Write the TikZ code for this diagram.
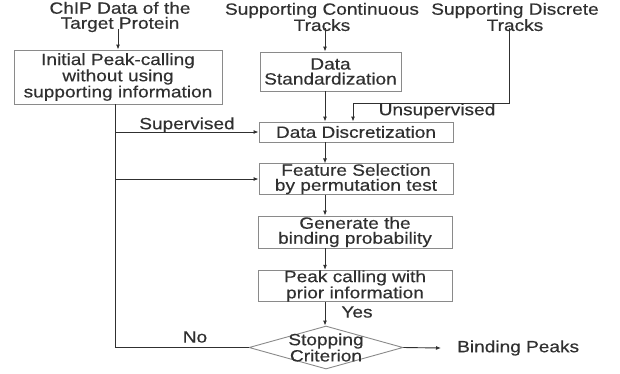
\documentclass[tikz,border=0pt]{standalone}
\usepackage{fontspec}
\setmainfont{Liberation Sans}[FakeStretch=1.17,FakeBold=0.4]
\usetikzlibrary{shapes.geometric,arrows.meta}
\definecolor{ink}{HTML}{303030}
\definecolor{edge}{HTML}{8A8A8A}
\begin{document}
\begin{tikzpicture}[x=1pt,y=-1pt,
  every node/.style={font=\fontsize{16.3}{15}\selectfont, text=ink, align=center, inner sep=0pt},
  box/.style={draw=edge, line width=0.9pt},
  arr/.style={draw=ink, line width=0.9pt, -{Latex[length=5pt,width=4pt]}},
  ln/.style={draw=ink, line width=0.9pt},
  lbl/.style={font=\fontsize{16.3}{15}\selectfont}]
\useasboundingbox (0,0) rectangle (620,373);

% sources
\node (chip) at (120,17) {ChIP Data of the\\Target Protein};
\node (cont) at (322,17) {Supporting Continuous\\Tracks};
\node (dtr) at (515,17) {Supporting Discrete\\Tracks};

% process boxes
\node[box, minimum width=208, minimum height=54] (init) at (118,77)
  {Initial Peak-calling\\without using\\supporting information};
\node[box, minimum width=141, minimum height=39] (std) at (330.5,71.5)
  {Data\\Standardization};
\node[box, minimum width=194, minimum height=20] (disc) at (356,132)
  {Data Discretization};
\node[box, minimum width=194, minimum height=28] (feat) at (356,179)
  {Feature Selection\\by permutation test};
\node[box, minimum width=194, minimum height=32] (gen) at (355,232)
  {Generate the\\binding probability};
\node[box, minimum width=194, minimum height=30] (peak) at (355,286)
  {Peak calling with\\prior information};
% decision: the text sits on top so it may overrun the outline
\node[box, diamond, aspect=3.58, minimum width=154, minimum height=43,
  label={[align=center]center:Stopping\\Criterion}] (stop) at (326,347.5) {};
\node[anchor=west] (out) at (457,348) {Binding Peaks};

% guide lines
\coordinate (spine) at (325,0);
\coordinate (lft) at (115,0);
\coordinate (drop) at (353,0);
\coordinate (dline) at (509,0);
\coordinate (turn) at (0,103);

% connectors
\draw[arr] ([yshift=3]chip.south -| init.north) -- (init.north);
\draw[arr] ([yshift=3]cont.south -| spine) -- (std.north -| spine);
\draw[arr] (std.south -| spine) -- (disc.north -| spine);
\draw[arr] (disc.south -| spine) -- (feat.north -| spine);
\draw[arr] (feat.south -| spine) -- (gen.north -| spine);
\draw[arr] (gen.south -| spine) -- (peak.north -| spine);
\draw[arr] (peak.south -| spine) -- (stop.north -| spine);
\draw[ln] ([yshift=3]dtr.south -| dline) -- (dline |- turn) -- (drop |- turn);
\draw[arr] (drop |- turn) -- (disc.north -| drop);
\draw[ln] (stop.west) -- (lft |- stop.west) -- (init.south -| lft);
\draw[arr] (lft |- disc.west) -- (disc.west);
\draw[arr] (lft |- feat.west) -- (feat.west);
\draw[arr] (stop.east) -- ([xshift=-16]out.west);

% edge labels
\node[lbl] (sup) at (187,125) {Supervised};
\node[lbl] (uns) at (437,111) {Unsupervised};
\node[lbl] (yes) at (357,312) {Yes};
\node[lbl] (no) at (195,337) {No};
\end{tikzpicture}
\end{document}
